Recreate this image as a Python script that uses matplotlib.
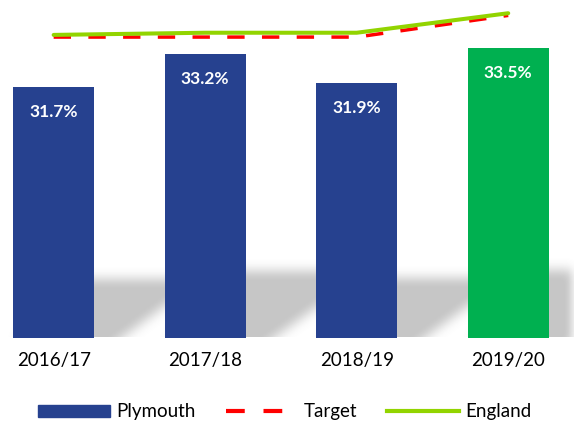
import numpy as np
import matplotlib
matplotlib.use("Agg")
import matplotlib.pyplot as plt
from matplotlib.path import Path as MPath
from matplotlib.patches import Patch
from matplotlib.lines import Line2D

years = ["2016/17", "2017/18", "2018/19", "2019/20"]
plymouth = [31.7, 33.2, 31.9, 33.5]
target = [34.0, 34.0, 34.0, 35.0]
england = [34.1, 34.2, 34.2, 35.1]

BLUE = "#26418F"
GREEN_BAR = "#00B050"
RED = "#FF0000"
LIME = "#92D400"

plt.rcParams["font.family"] = ["Lato", "DejaVu Sans"]

W, H, DPI = 574, 421, 100
YMIN, YMAX = 20.12, 35.71
fig = plt.figure(figsize=(W / DPI, H / DPI), dpi=DPI, facecolor="white")
ax = fig.add_axes([0, 83 / H, 1, 1 - 83 / H])
ax.patch.set_visible(False)

x = np.arange(len(years))
colors = [BLUE] * (len(years) - 1) + [GREEN_BAR]
bars = ax.bar(x, plymouth, width=0.535, color=colors, zorder=2)

ax.plot(x, target, color=RED, lw=2.5, linestyle=(0, (5, 5)), zorder=3)
ax.plot(x, england, color=LIME, lw=2.9, solid_capstyle="round", zorder=4)

ax.set_xlim(-0.354, 3.434)
ax.set_ylim(YMIN, YMAX)
ax.set_yticks([])
ax.set_xticks([])
for s in ax.spines.values():
    s.set_visible(False)

# value labels inside the bars
for b, v in zip(bars, plymouth):
    ax.annotate(f"{v:.1f}%", (b.get_x() + b.get_width() / 2, v),
                xytext=(0, -25), textcoords="offset pixels",
                ha="center", va="center", color="white",
                fontsize=12.5, fontweight="bold", zorder=5)

# category labels under the bars
for xi, lab in zip(x, years):
    ax.annotate(lab, (xi, YMIN), xytext=(0, -23), textcoords="offset pixels",
                ha="center", va="center", fontsize=13.5, color="black",
                annotation_clip=False)

# blurred perspective shadow behind the bars (trapezoid leaning to the right)
fig.canvas.draw()
yy, xx = np.mgrid[0:H, 0:W]
pts = np.column_stack([xx.ravel() + 0.5, yy.ravel() + 0.5])
mask = np.zeros((H, W))
slope = 0.55
for b in bars:
    (xl, yb), (xr, yt) = ax.transData.transform(
        [(b.get_x(), YMIN), (b.get_x() + b.get_width(), b.get_height())])
    h_sh = 0.235 * (yt - yb)
    dx_r = h_sh / slope
    dx_l = 0.5 * h_sh
    poly = MPath([(xl, yb - 20), (xr, yb - 20), (xr + dx_r, yb + h_sh),
                  (xl + dx_l, yb + h_sh)])
    mask = np.maximum(mask, poly.contains_points(pts).reshape(H, W))


def box_blur(a, k):
    kern = np.ones(k) / k
    a = np.apply_along_axis(lambda r: np.convolve(r, kern, mode="same"), 1, a)
    a = np.apply_along_axis(lambda c: np.convolve(c, kern, mode="same"), 0, a)
    return a


for _ in range(3):
    mask = box_blur(mask, 11)
base_px = ax.transData.transform((0, YMIN))[1]
mask[yy < base_px] = 0
rgba = np.zeros((H, W, 4))
rgba[..., :3] = 0.45
rgba[..., 3] = np.clip(mask * 0.42, 0, 0.4)
fig.figimage(rgba, 0, 0, origin="lower", zorder=-1)

handles = [Patch(facecolor=BLUE, edgecolor=BLUE),
           Line2D([], [], color=RED, lw=3, linestyle=(0, (4.5, 4.5))),
           Line2D([], [], color=LIME, lw=3)]
fig.legend(handles, ["Plymouth", "Target", "England"], loc="center",
           bbox_to_anchor=(285 / W, 9 / H), ncol=3, frameon=False,
           fontsize=13.5, handlelength=3.84, handletextpad=0.32,
           columnspacing=1.6, handleheight=0.65)

fig.savefig("out.png", dpi=DPI, facecolor="white")
